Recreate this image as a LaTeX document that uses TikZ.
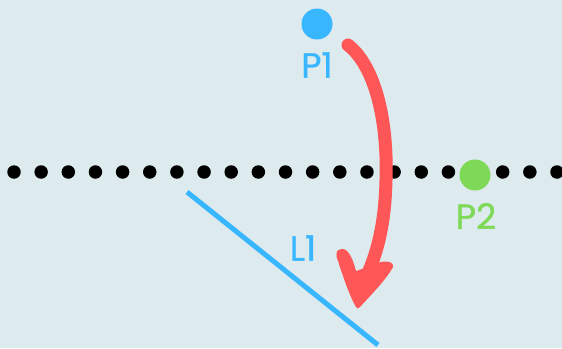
\documentclass[tikz,border=0pt]{standalone}
\usepackage{fontspec}
\setmainfont{Poppins}
\newfontfamily\lblfont{Poppins}[FakeBold=0.9]
\definecolor{bg}{RGB}{221,235,238}
\definecolor{pblue}{RGB}{56,182,255}
\definecolor{pgreen}{RGB}{126,217,87}
\definecolor{pred}{RGB}{255,87,87}
\tikzset{
  lbl/.style={font=\lblfont\fontsize{35}{35}\selectfont, inner sep=0pt},
  dot/.style={circle, fill=black, inner sep=0pt, minimum size=13.5pt},
  bigpt/.style={circle, inner sep=0pt, minimum size=31pt},
}
\begin{document}
\begin{tikzpicture}[x=1pt, y=-1pt]
\fill[bg] (0,0) rectangle (562,348);
\useasboundingbox (0,0) rectangle (562,348);
% dotted line
\foreach \k in {0,...,20} {
  \node[dot] (d\k) at ({14+27.15*\k},172) {};
}
% L1 line
\coordinate (la) at (187,192);
\coordinate (lb) at (378,345);
\draw[pblue, line width=5pt] (la) -- (lb);
\node[lbl, text=pblue] (l1) at (303,248) {L1};
% points
\node[bigpt, fill=pblue] (p1) at (317,24) {};
\node[lbl, text=pblue] (p1l) at (317,65) {P1};
\node[bigpt, fill=pgreen] (p2) at (475,175) {};
\node[lbl, text=pgreen] (p2l) at (476,216) {P2};
% red arrow
\coordinate (as) at (348,45);
\coordinate (ae) at (364,282);
\draw[pred, line width=13pt, line cap=round] (as) .. controls (375,66) and (388,120) .. (386,180) .. controls (385,225) and (377,255) .. (ae);
\fill[pred] (356,307) .. controls (349,295) and (343,276) .. (338,261)
  .. controls (333,250) and (341,246) .. (347,251)
  .. controls (352,256) and (354,264) .. (356,271)
  -- (374,265) .. controls (381,260) and (394,260) .. (393,267)
  .. controls (386,280) and (369,297) .. (360,307)
  .. controls (358,309) and (357,309) .. cycle;
\end{tikzpicture}
\end{document}
